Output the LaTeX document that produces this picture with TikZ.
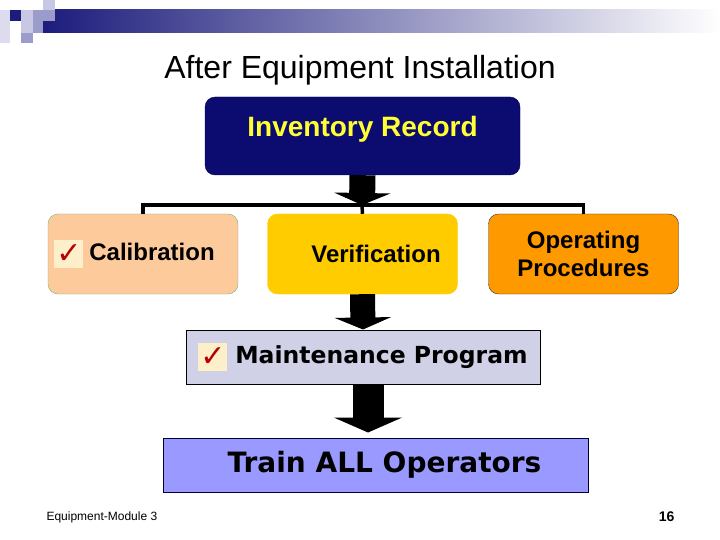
\documentclass[tikz,border=0pt]{standalone}
\usepackage{fontspec}
\setmainfont{Liberation Sans}
\newfontfamily\verdana{DejaVu Sans}
\usetikzlibrary{arrows.meta,positioning}

\definecolor{barnavy}{HTML}{1C1C7C}
\definecolor{sqpale}{HTML}{DCDCEE}
\definecolor{sqlight}{HTML}{C8C8E4}
\definecolor{sqmid}{HTML}{9C9CCC}
\definecolor{invblue}{HTML}{0B0B70}
\definecolor{invtext}{HTML}{FFFF33}
\definecolor{calpeach}{HTML}{FDCB9B}
\definecolor{calline}{HTML}{7FAF7F}
\definecolor{vergold}{HTML}{FFCC00}
\definecolor{opsorange}{HTML}{FF9900}
\definecolor{maintgrey}{HTML}{D0D0E6}
\definecolor{trainblue}{HTML}{9999FF}
\definecolor{tickbg}{HTML}{FCEFC9}
\definecolor{tickred}{HTML}{B80000}

% red tick on a pale square
\newcommand{\chkbox}{{\setlength{\fboxsep}{0pt}\colorbox{tickbg}{\parbox[c][28pt][c]{29pt}{\centering\verdana\fontsize{30}{30}\selectfont\color{tickred}✓}}}}

\begin{document}
\begin{tikzpicture}[x=1pt, y=-1pt,
    box/.style={rounded corners=10pt, minimum width=190pt, minimum height=80pt, inner sep=0pt,
                align=center, font=\fontsize{24}{28}\selectfont\bfseries},
    bar/.style={draw=black, line width=1pt, minimum height=54pt, inner sep=0pt},
    wire/.style={line width=3.5pt},
    bigarrow/.style={line width=26pt, -{Triangle[width=56pt,length=12pt]}}]
    \fill[white] (0,0) rectangle (720,540);
    \useasboundingbox (0,0) rectangle (720,540);

    % header bar
    \shade[left color=barnavy, right color=white] (43,10) rectangle (720,33);
    \fill[sqpale] (0,10) rectangle (10,43);
    \fill[barnavy] (10,10) rectangle (21,21);
    \fill[sqlight] (21,10) rectangle (33,21);
    \fill[sqmid] (33,10) rectangle (43,21);
    \fill[sqlight] (43,0) rectangle (55,10);
    \fill[sqmid] (43,10) rectangle (55,21);
    \fill[sqlight] (21,21) rectangle (33,33);
    \fill[sqmid] (33,21) rectangle (43,33);
    \fill[sqmid] (21,33) rectangle (33,43);

    \node (title) at (360,70) {\fontsize{32}{36}\selectfont After Equipment Installation};

    \node (inv) [box, fill=invblue, draw=invblue!70!black, minimum width=315pt, minimum height=78pt,
                 text=invtext, font=\fontsize{28}{30}\selectfont\bfseries,
                 text height=20pt, text depth=18pt] at (362.5,136) {Inventory Record};

    \node (cal) [box, fill=calpeach, draw=calline] at (143,254) {\chkbox\hspace{6pt}Calibration\hspace{17pt}};
    \node (ver) [box, fill=vergold, draw=vergold] at (362.5,254) {\hspace{27pt}Verification};
    \node (ops) [box, fill=opsorange, draw=black!80] at (583.5,254) {Operating\\Procedures};

    \node (maint) [bar, fill=maintgrey, minimum width=354pt,
                   font=\verdana\bfseries\fontsize{23.5}{26}\selectfont] at (363,357)
                   {\chkbox\hspace{8pt}Maintenance Program};
    \node (train) [bar, fill=trainblue, draw=black!80!blue, minimum width=425pt,
                   font=\verdana\bfseries\fontsize{28}{30}\selectfont] at (375.5,465)
                   {\hspace{18pt}Train ALL Operators};

    \coordinate (bus) at (362,205);
    \draw[wire] (cal.north) |- (bus) -| (ops.north);
    \draw[wire] (bus) -- (ver.north);

    \draw[bigarrow] (inv.south) -- (bus);
    \draw[bigarrow, line width=25pt] (ver.south) -- (maint.north);
    \draw[bigarrow, line width=31pt, -{Triangle[width=68pt,length=15pt]}, shorten >=5pt]
        ([xshift=5pt]maint.south) -- ([xshift=5pt]maint.south |- train.north);

    \node (foot) [anchor=west, font=\fontsize{12}{14}\selectfont] at (43,517) {Equipment-Module 3};
    \node (page) [anchor=east, font=\fontsize{14}{16}\selectfont\bfseries] at (678,517) {16};
\end{tikzpicture}
\end{document}
